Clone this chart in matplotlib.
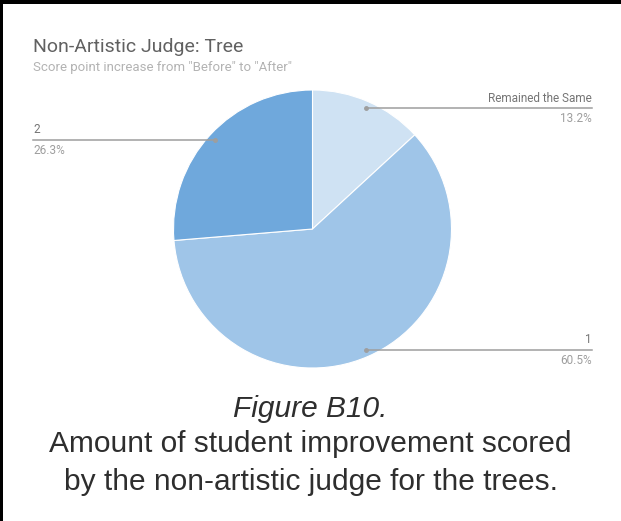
import numpy as np
import matplotlib
matplotlib.use("Agg")
import matplotlib.pyplot as plt
from matplotlib.patches import Rectangle

# score point increase, number of students per group
labels = ["Remained the Same", "1", "2"]
counts = [5, 23, 10]
colors = ["#cfe2f3", "#9fc5e8", "#6fa8dc"]

title = "Non-Artistic Judge: Tree"
subtitle = 'Score point increase from "Before" to "After"'
caption_head = "Figure B10."
caption_body = ["Amount of student improvement scored",
                "by the non-artistic judge for the trees."]

W, H = 621, 521
fig = plt.figure(figsize=(W / 100, H / 100), dpi=100)
fig.patch.set_facecolor("white")

# pie placement in pixels
cx, cy, r = 312.5, 229, 139
ax = fig.add_axes([(cx - r) / W, (H - cy - r) / H, 2 * r / W, 2 * r / H])
wedges, _ = ax.pie(counts, colors=colors, startangle=90, counterclock=False,
                   wedgeprops=dict(edgecolor="white", linewidth=0.8))
ax.set_xlim(-1, 1)
ax.set_ylim(-1, 1)
ax.axis("off")

# leader lines from the middle of each slice to the label column
total = sum(counts)
label_x = (592 - cx) / r
for w, name, c in zip(wedges, labels, counts):
    mid = np.deg2rad((w.theta1 + w.theta2) / 2)
    px, py = 0.95 * np.cos(mid), 0.95 * np.sin(mid)
    side = 1 if px > 0 else -1
    lx = side * label_x
    ha = "right" if side > 0 else "left"
    ax.plot([px, lx], [py, py], color="#9e9e9e", lw=1.1, clip_on=False)
    ax.plot(px, py, "o", color="#9e9e9e", ms=2.5, clip_on=False)
    ax.text(lx, py + 0.025, name, ha=ha, va="bottom", fontsize=8.5,
            family="Roboto", color="#757575")
    ax.text(lx, py - 0.03, f"{100 * c / total:.1f}%", ha=ha, va="top",
            fontsize=8.5, family="Roboto", color="#9e9e9e")

fig.text(33 / W, 1 - 52 / H, title, fontsize=14, family="Roboto",
         color="#616161", va="baseline")
fig.text(33 / W, 1 - 71 / H, subtitle, fontsize=9.5, family="Roboto",
         color="#b3b3b3", va="baseline")

fig.text(0.5, 1 - 417 / H, caption_head, fontsize=21.5, family="Liberation Sans",
         style="italic", color="#2e2e2e", ha="center", va="baseline")
for i, line in enumerate(caption_body):
    fig.text(0.5, 1 - (452 + 38 * i) / H, line, fontsize=21.5,
             family="Liberation Sans", color="#2e2e2e", ha="center", va="baseline")

# black frame on the top and left edges
fig.add_artist(Rectangle((0, 1 - 4 / H), 1, 4 / H, transform=fig.transFigure,
                         color="black", lw=0))
fig.add_artist(Rectangle((0, 0), 3 / W, 1, transform=fig.transFigure,
                         color="black", lw=0))

fig.savefig("out.png", dpi=100)
